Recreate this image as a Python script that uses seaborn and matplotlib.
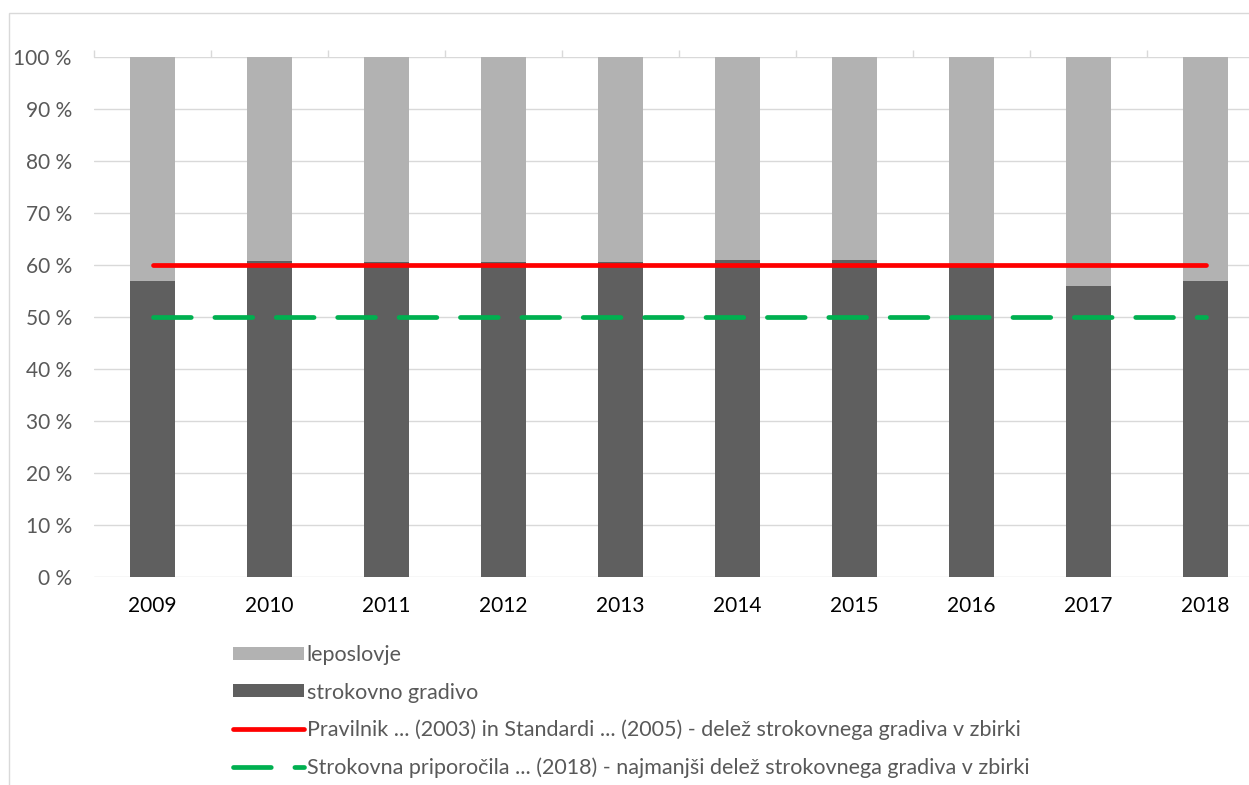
import numpy as np
import pandas as pd
import seaborn as sns
import matplotlib.pyplot as plt
from matplotlib.patches import Patch, Rectangle
from matplotlib.lines import Line2D

# data (share of holdings, %)
years = ["2009", "2010", "2011", "2012", "2013", "2014", "2015", "2016", "2017", "2018"]
strokovno = [57, 60.7, 60.6, 60.5, 60.5, 60.9, 60.9, 60.2, 55.9, 57]
leposlovje = [100 - v for v in strokovno]
pravilnik = [60] * len(years)
priporocila = [50] * len(years)

lab_lep = "leposlovje"
lab_str = "strokovno gradivo"
lab_prav = "Pravilnik ... (2003) in Standardi ... (2005) - delež strokovnega gradiva v zbirki"
lab_prip = "Strokovna priporočila ... (2018) - najmanjši delež strokovnega gradiva v zbirki"

c_light = "#b2b2b2"
c_dark = "#5f5f5f"
c_red = "#ff0000"
c_green = "#00b050"
c_grid = "#d9d9d9"

sns.set_theme(style="white")
plt.rcParams["font.family"] = ["Lato", "DejaVu Sans"]

df = pd.DataFrame({"leto": years, "strokovno": strokovno, "leposlovje": leposlovje})
df["skupaj"] = df["strokovno"] + df["leposlovje"]

fig = plt.figure(figsize=(12.49, 7.85), dpi=100)
ax = fig.add_axes([94 / 1249, 1 - 577 / 785, 1170 / 1249, 520 / 785])

# stacked bars: full height first (leposlovje on top), then strokovno
sns.barplot(data=df, x="leto", y="skupaj", color=c_light, width=0.39,
            saturation=1, linewidth=0, ax=ax, zorder=2)
sns.barplot(data=df, x="leto", y="strokovno", color=c_dark, width=0.39,
            saturation=1, linewidth=0, ax=ax, zorder=2)

xpos = np.arange(len(years))
ax.plot(xpos, pravilnik, color=c_red, lw=3.4, solid_capstyle="round", zorder=3)
ax.plot(xpos, priporocila, color=c_green, lw=3.4, dashes=(8, 5),
        dash_capstyle="round", zorder=3)

ax.set_ylim(0, 100)
ax.set_xlim(-0.5, len(years) - 0.5)
ax.set_yticks(np.arange(0, 101, 10))
ax.set_yticklabels([f"{v} %" for v in range(0, 101, 10)], fontsize=15, color="#595959")
ax.tick_params(axis="x", labelsize=15, labelcolor="black", pad=14, length=0)
ax.tick_params(axis="y", pad=16, length=0)
ax.set_xlabel("")
ax.set_ylabel("")
ax.yaxis.grid(True, color=c_grid, lw=1.0, zorder=0)
ax.set_axisbelow(True)
for s in ax.spines.values():
    s.set_visible(False)

# small tick marks at category boundaries on the 100 % line
ax.vlines(np.arange(-0.5, len(years), 1.0), 100, 101.35, color=c_grid, lw=1.0,
          clip_on=False)

# outer chart border (cropped on the right and bottom)
fig.patches.append(Rectangle((9 / 1249, -0.1), 1.2, 1.1 - 13 / 785, transform=fig.transFigure,
                             fill=False, edgecolor=c_grid, lw=1.0))

handles = [
    Patch(facecolor=c_light, edgecolor="none"),
    Patch(facecolor=c_dark, edgecolor="none"),
    Line2D([0], [0], color=c_red, lw=3.4, solid_capstyle="round"),
    Line2D([0], [0], color=c_green, lw=3.4, dashes=(8, 5), dash_capstyle="round"),
]
leg = fig.legend(handles, [lab_lep, lab_str, lab_prav, lab_prip], loc="upper left",
                 bbox_to_anchor=(214 / 1249, 1 - 626 / 785), frameon=False,
                 fontsize=15.5, handlelength=3.3, handleheight=0.55, handletextpad=0.1,
                 labelspacing=0.8, labelcolor="#595959")

fig.savefig("out.png", dpi=100)
